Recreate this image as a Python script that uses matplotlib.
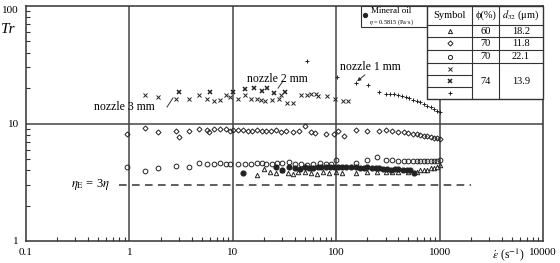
import matplotlib.pyplot as plt
import numpy as np

plt.rcParams['font.family'] = ['Liberation Serif', 'DejaVu Serif']
plt.rcParams['mathtext.fontset'] = 'stix'

# 74 %, small crosses (nozzle 3 mm / 2 mm)
x_cross = [1.42, 1.89, 2.8, 3.76, 4.7, 5.6, 6.6, 7.5, 8.6, 9.4, 11.2, 13.1, 15.0, 17.1,
           18.8, 20.5, 24, 28, 29.5, 33.5, 38.5, 46, 52, 57, 64, 67, 82, 98, 117, 130]
y_cross = [17.5, 16.8, 16.2, 16.2, 17.5, 16.2, 15.5, 15.8, 17.5, 16.8, 16.2, 17.5, 16.2, 16.2,
           15.8, 15.6, 15.8, 16.2, 17.6, 15.0, 14.8, 17.6, 17.6, 17.8, 18.0, 17.2, 17.0, 16.2, 15.6, 15.6]
# 74 %, bold crosses
x_bold = [3.0, 6.0, 10.1, 13.1, 16.0, 19.1, 21.6, 25.0, 32.0]
y_bold = [18.6, 18.6, 18.6, 19.7, 19.9, 18.9, 20.0, 18.2, 18.6]
# 74 %, plus (nozzle 1 mm)
x_plus = [52, 102, 155, 203, 259, 303, 330, 360, 395, 430, 470, 510, 555, 600, 650,
          700, 760, 820, 880, 940, 1000]
y_plus = [34, 25, 22, 21.2, 18.6, 17.8, 17.8, 17.8, 17.5, 17.1, 16.8, 16.4, 16.0, 15.6, 15.2,
          14.7, 14.2, 13.8, 13.3, 12.9, 12.5]
# 70 %, 11.8 um, diamonds
x_diam = [0.95, 1.42, 1.89, 2.8, 3.0, 3.76, 4.7, 5.6, 5.9, 6.6, 7.5, 8.6, 9.4, 10.0, 11.2,
          12.5, 14, 15.5, 17, 19, 21, 23.5, 26, 29, 33, 38, 44, 50, 57, 63, 80, 95, 105, 118,
          155, 200, 259, 303, 350, 400, 450, 500, 550, 600, 650, 700, 760, 820, 880, 940, 1000]
y_diam = [8.1, 9.2, 8.4, 8.6, 7.7, 8.6, 9.0, 8.8, 8.5, 8.9, 8.9, 8.9, 8.6, 8.8, 8.8,
          8.8, 8.6, 8.7, 8.8, 8.7, 8.6, 8.6, 8.8, 8.5, 8.6, 8.4, 8.6, 9.5, 8.5, 8.3, 8.1, 8.1, 8.6, 7.8,
          8.8, 8.6, 8.6, 8.8, 8.6, 8.5, 8.4, 8.3, 8.2, 8.1, 8.0, 7.9, 7.8, 7.7, 7.6, 7.5, 7.4]
# 70 %, 22.1 um, open circles
x_circ = [0.95, 1.42, 1.89, 2.8, 3.76, 4.7, 5.6, 6.6, 7.5, 8.6, 9.4, 11.2, 13, 15, 17, 19, 21,
          24, 27, 30, 35, 40, 46, 52, 60, 70, 80, 90, 100, 155, 200, 250, 300, 350, 400, 450,
          500, 550, 600, 650, 700, 760, 820, 880, 940, 1000]
y_circ = [4.26, 3.94, 4.18, 4.35, 4.26, 4.6, 4.55, 4.5, 4.6, 4.5, 4.55, 4.5, 4.55, 4.55, 4.6, 4.6, 4.55,
          4.5, 4.6, 4.6, 4.7, 4.5, 4.5, 4.4, 4.5, 4.6, 4.5, 4.5, 4.9, 4.6, 4.9, 5.2, 4.9, 4.9, 4.8, 4.8,
          4.8, 4.8, 4.8, 4.8, 4.8, 4.8, 4.8, 4.8, 4.8, 4.9]
# 60 %, triangles
x_tri = [17, 20, 23, 26, 30, 34, 38, 43, 50, 57, 65, 75, 85, 100, 115, 155, 200, 250, 300,
         350, 400, 500, 600, 650, 700, 760, 820, 880, 940, 1000]
y_tri = [3.65, 4.1, 3.85, 3.8, 4.0, 3.8, 3.75, 3.9, 3.9, 3.8, 3.75, 3.9, 3.8, 3.85, 3.8, 3.8, 3.85,
         3.9, 3.9, 3.85, 3.9, 3.9, 3.9, 4.0, 4.0, 4.05, 4.15, 4.2, 4.3, 4.4]
# mineral oil, filled circles
x_oil = [12.5, 26, 30, 35, 40, 45, 50, 55, 60, 66, 72, 80, 88, 96, 105, 115, 125, 140, 155,
         170, 185, 200, 220, 240, 260, 285, 310, 340, 370, 400, 440, 480, 520, 570]
y_oil = [3.8, 4.3, 4.0, 4.3, 4.2, 4.1, 4.3, 4.2, 4.2, 4.3, 4.3, 4.3, 4.3, 4.3, 4.25, 4.3, 4.3, 4.25,
         4.3, 4.2, 4.2, 4.25, 4.2, 4.2, 4.15, 4.1, 4.1, 4.0, 4.1, 4.1, 4.0, 4.05, 4.0, 3.8]

x_dash = [0.8, 2000]
y_dash = [3, 3]

fig = plt.figure(figsize=(5.6, 2.63), dpi=100)
ax = fig.add_axes([26 / 560, 22 / 263, 517 / 560, 235 / 263])
ax.set_xscale('log')
ax.set_yscale('log')
ax.set_xlim(0.1, 10000)
ax.set_ylim(1, 100)

for v in [1, 10, 100, 1000]:
    ax.axvline(v, color='#444444', lw=1.1, zorder=1)
ax.axhline(10, color='#444444', lw=1.1, zorder=1)

k = dict(ls='none', color='#222222', zorder=3)
ax.plot(x_cross, y_cross, marker='x', ms=2.6, mew=0.7, **k)
ax.plot(x_bold, y_bold, marker='x', ms=3.0, mew=1.1, **k)
ax.plot(x_plus, y_plus, marker='+', ms=3.5, mew=0.7, **k)
ax.plot(x_diam, y_diam, marker='D', ms=2.6, mfc='none', mew=0.7, **k)
ax.plot(x_circ, y_circ, marker='o', ms=3.4, mfc='none', mew=0.7, **k)
ax.plot(x_tri, y_tri, marker='^', ms=3.2, mfc='none', mew=0.7, **k)
ax.plot(x_oil, y_oil, marker='o', ms=3.4, **k)
ax.plot(x_dash, y_dash, color='#333333', lw=1.1, dashes=(5, 3.5), zorder=2)

ax.text(0.65, 3.0, r'$\eta_{\rm E}$ = 3$\eta$', fontsize=9, ha='right', va='center')
ax.text(0.9, 13.8, 'nozzle 3 mm', fontsize=8.5, ha='center', va='center')
ax.plot([2.31, 2.64], [13.8, 16.5], color='#333333', lw=0.7)
ax.text(26.7, 23.9, 'nozzle 2 mm', fontsize=8.5, ha='center', va='center')
ax.plot([30.6, 27.4], [23, 20], color='#333333', lw=0.7)
ax.text(212, 30.3, 'nozzle 1 mm', fontsize=8.5, ha='center', va='center')
ax.annotate('', xy=(152, 22.1), xytext=(199, 26.9),
            arrowprops=dict(arrowstyle='-|>', lw=0.7, color='#333333', mutation_scale=5))

for s in ax.spines.values():
    s.set_color('#333333')
    s.set_linewidth(1.1)
ax.tick_params(which='both', direction='in', labelsize=8)
ax.tick_params(which='major', length=0)
ax.tick_params(which='minor', length=3, width=0.8, color='#333333')
ax.tick_params(axis='y', which='minor', right=False)
ax.tick_params(axis='y', pad=5)
ax.tick_params(axis='x', pad=5)
ax.xaxis.set_minor_formatter(plt.NullFormatter())
ax.yaxis.set_minor_formatter(plt.NullFormatter())
ax.set_xticks([0.1, 1, 10, 100, 1000, 10000])
ax.set_xticklabels(['0.1', '1', '10', '100', '1000', '10000'])
ax.set_yticks([1, 10, 100])
ax.set_yticklabels(['1', '10', '100'])
# keep the top label inside the canvas
ax.get_yticklabels()[-1].set_va('top')

ax.text(-0.035, 0.9, 'Tr', transform=ax.transAxes, fontsize=11, style='italic',
        ha='center', va='center')
ax.text(0.932, -0.06, r'$\dot{\varepsilon}$ (s$^{-1}$)', transform=ax.transAxes,
        fontsize=8.5, ha='center', va='center')

# legend box for mineral oil
T = ax.transAxes
ax.add_patch(plt.Rectangle((0.648, 0.911), 0.128, 0.089, transform=T, fill=False,
                           ec='#333333', lw=0.8, clip_on=False, zorder=4))
ax.plot([0.656], [0.963], transform=T, marker='o', ms=2.8, color='#222222', clip_on=False)
ax.text(0.667, 0.978, 'Mineral oil', transform=T, fontsize=6.5, va='center')
ax.text(0.664, 0.933, r'$\eta$ = 0.5815 (Pa·s)', transform=T, fontsize=4.5, va='center')

# table
xl, xc1, xc2, xr = 0.776, 0.863, 0.915, 1.0
rows = [1.0, 0.919, 0.868, 0.813, 0.757, 0.706, 0.655, 0.604]
ax.add_patch(plt.Rectangle((xl, rows[-1]), xr - xl, 1 - rows[-1], transform=T,
                           fc='white', ec='#333333', lw=1.0, clip_on=False, zorder=4))
lk = dict(transform=T, color='#333333', lw=0.8, clip_on=False, zorder=5)
for r in rows[1:5]:
    ax.plot([xl, xr], [r, r], **lk)
for r in rows[5:7]:
    ax.plot([xl, xc1], [r, r], **lk)
for c in [xc1, xc2]:
    ax.plot([c, c], [rows[0], rows[-1]], **lk)

hdr = ['Symbol', 'ϕ(%)', r'$d_{32}$ (μm)']
phi = ['60', '70', '70']
d32 = ['18.2', '11.8', '22.1']
cx = [(xl + xc1) / 2, (xc1 + xc2) / 2, (xc2 + xr) / 2]
tk = dict(transform=T, fontsize=7.5, ha='center', va='center', zorder=6)
for c, h in zip(cx, hdr):
    ax.text(c, (rows[0] + rows[1]) / 2, h, **tk)
for i in range(3):
    ym = (rows[i + 1] + rows[i + 2]) / 2
    ax.text(cx[1], ym, phi[i], **tk)
    ax.text(cx[2], ym, d32[i], **tk)
ax.text(cx[1], (rows[4] + rows[7]) / 2, '74', **tk)
ax.text(cx[2], (rows[4] + rows[7]) / 2, '13.9', **tk)

sym = [('^', 'none', 0.7, 3), ('D', 'none', 0.7, 2.6), ('o', 'none', 0.7, 3),
       ('x', '#222222', 0.7, 2.6), ('x', '#222222', 1.1, 3), ('+', '#222222', 0.7, 3.5)]
for i, (m, fc, mw, ms) in enumerate(sym):
    ym = (rows[i + 1] + rows[i + 2]) / 2
    ax.plot([cx[0]], [ym], transform=T, marker=m, mfc=fc, mew=mw, ms=ms,
            color='#222222', clip_on=False, zorder=6)

fig.savefig('out.png', dpi=100)
